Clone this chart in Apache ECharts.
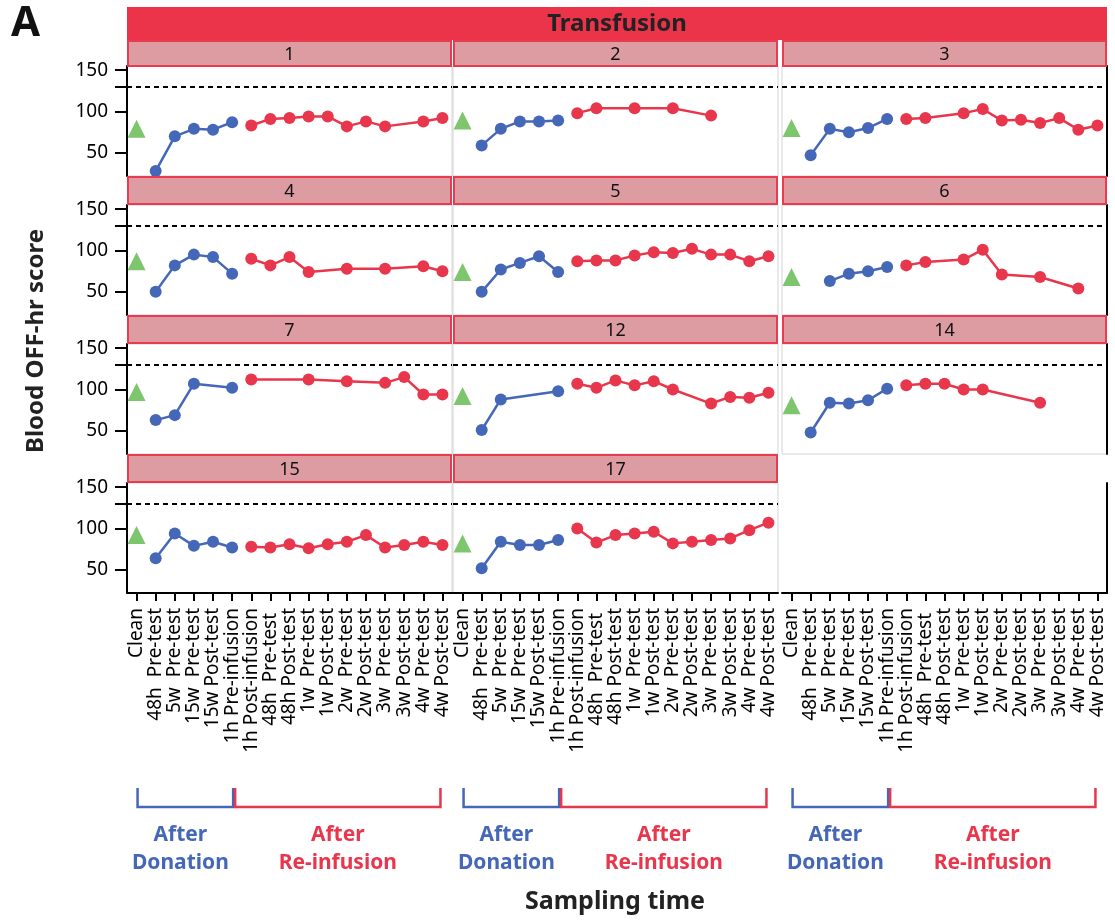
<!DOCTYPE html>
<html>
<head>
<meta charset="utf-8">
<script src="https://cdn.jsdelivr.net/npm/echarts@6/dist/echarts.min.js"></script>
<style>
html,body{margin:0;padding:0;background:#fff;}
#chart{width:1115px;height:920px;}
</style>
</head>
<body>
<div id="chart"></div>
<script>
// ---------- DATA ----------
const categories = ['Clean','48h  Pre-test','5w  Pre-test','15w  Pre-test','15w Post-test','1h Pre-infusion',
  '1h Post-infusion','48h  Pre-test ','48h Post-test','1w  Pre-test','1w Post-test','2w  Pre-test','2w Post-test',
  '3w  Pre-test','3w Post-test','4w  Pre-test','4w Post-test'];
const panelIds = ['1','2','3','4','5','6','7','12','14','15','17'];
const yTickValues = [50, 100, 150];
const thresholdValue = 130;
const headerTitle = 'Transfusion';
const yAxisTitle = 'Blood OFF-hr score';
const xAxisTitle = 'Sampling time';
const donationLabel = 'After\nDonation';
const reinfusionLabel = 'After\nRe-infusion';

// Clean (green triangle) value per panel
const cleanValues = [79, 89, 80, 87, 74, 68, 97, 92, 81, 92, 82];

// After donation: 48h Pre, 5w Pre, 15w Pre, 15w Post, 1h Pre-infusion
const donation1  = [28, 70, 79, 78, 87];
const donation2  = [59, 79, 88, 88, 89];
const donation3  = [47, 79, 75, 80, 91];
const donation4  = [50, 82, 95, 92, 72];
const donation5  = [50, 77, 85, 93, 74];
const donation6  = [null, 63, 72, 75, 80];
const donation7  = [63, 69, 107, null, 102];
const donation12 = [51, 88, null, null, 98];
const donation14 = [48, 84, 83, 87, 101];
const donation15 = [64, 94, 79, 84, 77];
const donation17 = [52, 84, 80, 80, 86];

// After re-infusion: 1h Post, 48h Pre, 48h Post, 1w Pre, 1w Post, 2w Pre, 2w Post, 3w Pre, 3w Post, 4w Pre, 4w Post
const reinfusion1  = [83, 91, 92, 94, 94, 82, 88, 82, null, 88, 92];
const reinfusion2  = [98, 104, null, 104, null, 104, null, 95, null, null, null];
const reinfusion3  = [91, 92, null, 98, 103, 89, 90, 86, 92, 78, 83];
const reinfusion4  = [90, 82, 92, 74, null, 78, null, 78, null, 81, 75];
const reinfusion5  = [87, 88, 88, 94, 98, 97, 102, 95, 95, 87, 93];
const reinfusion6  = [82, 86, null, 89, 101, 71, null, 68, null, 54, null];
const reinfusion7  = [112, null, null, 112, null, 110, null, 108, 115, 94, 94];
const reinfusion12 = [107, 102, 111, 105, 110, 100, null, 83, 91, 90, 96];
const reinfusion14 = [105, 107, 107, 100, 100, null, null, 84, null, null, null];
const reinfusion15 = [78, 77, 81, 76, 81, 84, 92, 77, 80, 84, 80];
const reinfusion17 = [100, 83, 92, 94, 96, 82, 84, 86, 88, 98, 107];

const donationSets = [donation1, donation2, donation3, donation4, donation5, donation6, donation7, donation12, donation14, donation15, donation17];
const reinfusionSets = [reinfusion1, reinfusion2, reinfusion3, reinfusion4, reinfusion5, reinfusion6, reinfusion7, reinfusion12, reinfusion14, reinfusion15, reinfusion17];

// ---------- LAYOUT / STYLE ----------
const FONT = 'Noto Sans';
const colLeft = [127, 453, 782];
const colWidth = 325;
const rowTop = [66, 205, 344, 483];
const rowHeight = 110;
const BLUE = '#4567b7';
const RED = '#e8364c';
const GREEN = '#5cb84a';
const STRIP_FILL = '#dd9ba2';
const STRIP_STROKE = '#ea3a50';
const HEADER_FILL = '#eb3349';

const chart = echarts.init(document.getElementById('chart'), null, {renderer: 'canvas'});

const grids = [], xAxes = [], yAxes = [], series = [], graphics = [];
const nCells = 12;
for (let i = 0; i < nCells; i++) {
  const row = Math.floor(i / 3), col = i % 3;
  const isPanel = i < panelIds.length;
  grids.push({
    left: colLeft[col], top: rowTop[row], width: colWidth, height: rowHeight,
    show: isPanel, borderColor: '#d4d4d4', borderWidth: 1, backgroundColor: 'transparent'
  });
  xAxes.push({
    type: 'category', gridIndex: i, data: categories, boundaryGap: true,
    show: row === 3,
    axisLine: {show: true, lineStyle: {color: '#000', width: 2}},
    axisTick: {show: true, alignWithLabel: true, length: 8, lineStyle: {color: '#000', width: 2}},
    axisLabel: {show: true, rotate: 90, interval: 0, fontSize: 19, margin: 15, color: '#000', fontFamily: FONT}
  });
  const yBase = {type: 'value', gridIndex: i, min: 22, max: 155, splitLine: {show: false}};
  if (col === 0) {
    yAxes.push(Object.assign(yBase, {
      position: 'left', show: true,
      axisLine: {show: true, lineStyle: {color: '#000', width: 2}},
      axisTick: {show: true, length: 12, customValues: [...yTickValues, thresholdValue], lineStyle: {color: '#000', width: 2}},
      axisLabel: {show: true, customValues: yTickValues, fontSize: 19, margin: 19, color: '#000', fontFamily: FONT}
    }));
  } else if (col === 2) {
    yAxes.push(Object.assign(yBase, {
      position: 'right', show: true,
      axisLine: {show: true, lineStyle: {color: '#000', width: 2}},
      axisTick: {show: false}, axisLabel: {show: false}
    }));
  } else {
    yAxes.push(Object.assign(yBase, {show: false}));
  }

  if (isPanel) {
    const don = donationSets[i], rein = reinfusionSets[i];
    const cleanData = categories.map((c, k) => k === 0 ? cleanValues[i] : '-');
    const donData = categories.map((c, k) => (k >= 1 && k <= 5) ? (don[k - 1] == null ? '-' : don[k - 1]) : '-');
    const reinData = categories.map((c, k) => (k >= 6) ? (rein[k - 6] == null ? '-' : rein[k - 6]) : '-');
    series.push({
      type: 'line', xAxisIndex: i, yAxisIndex: i, data: donData, connectNulls: true,
      symbol: 'circle', symbolSize: 12, itemStyle: {color: BLUE}, lineStyle: {color: BLUE, width: 2.5},
      z: 3, animation: false,
      markLine: {silent: true, symbol: 'none', label: {show: false},
        lineStyle: {color: '#000', type: [5, 4], width: 2},
        data: [{yAxis: thresholdValue}], animation: false}
    });
    series.push({
      type: 'line', xAxisIndex: i, yAxisIndex: i, data: reinData, connectNulls: true,
      symbol: 'circle', symbolSize: 12, itemStyle: {color: RED}, lineStyle: {color: RED, width: 2.5},
      z: 3, animation: false
    });
    series.push({
      type: 'scatter', xAxisIndex: i, yAxisIndex: i, data: cleanData,
      symbol: 'triangle', symbolSize: [18, 18], itemStyle: {color: GREEN}, z: 4, animation: false
    });

    // strip
    const sTop = row === 0 ? 41 : rowTop[row] - 28;
    const sH = row === 0 ? 25 : 27;
    graphics.push({
      type: 'rect', shape: {x: colLeft[col] + 1, y: sTop, width: colWidth - 2, height: sH},
      style: {fill: STRIP_FILL, stroke: STRIP_STROKE, lineWidth: 2}, z: 10
    });
    graphics.push({
      type: 'text', x: colLeft[col] + colWidth / 2, y: sTop + sH / 2 + 1,
      style: {text: panelIds[i], font: '18px "' + FONT + '"', fill: '#111', align: 'center', verticalAlign: 'middle'}, z: 11
    });
  }
}

// header
graphics.push({type: 'rect', shape: {x: colLeft[0], y: 7, width: colLeft[2] + colWidth - colLeft[0], height: 33},
  style: {fill: HEADER_FILL}, z: 10});
graphics.push({type: 'text', x: (colLeft[0] + colLeft[2] + colWidth) / 2, y: 24,
  style: {text: headerTitle, font: 'bold 24px "' + FONT + '"', fill: '#222', align: 'center', verticalAlign: 'middle'}, z: 11});
// panel letter
graphics.push({type: 'text', x: 11, y: 24,
  style: {text: 'A', font: 'bold 42px "' + FONT + '"', fill: '#111', align: 'left', verticalAlign: 'middle'}, z: 11});
// axis titles
graphics.push({type: 'text', x: 36, y: 341, rotation: Math.PI / 2,
  style: {text: yAxisTitle, font: 'bold 24px "' + FONT + '"', fill: '#222', align: 'center', verticalAlign: 'middle'}, z: 11});
graphics.push({type: 'text', x: 615, y: 902,
  style: {text: xAxisTitle, font: 'bold 25px "' + FONT + '"', fill: '#222', align: 'center', verticalAlign: 'middle'}, z: 11});

chart.setOption({
  animation: false,
  backgroundColor: '#fff',
  grid: grids, xAxis: xAxes, yAxis: yAxes, series: series, graphic: graphics
});

// brackets under the bottom row, positioned with the library's category scale
const bracketGraphics = [];
[9, 10, 11].forEach(function (gi) {
  const xClean = chart.convertToPixel({xAxisIndex: gi}, categories[0]);
  const xPre = chart.convertToPixel({xAxisIndex: gi}, categories[5]);
  const xEnd = chart.convertToPixel({xAxisIndex: gi}, categories[16]);
  const yTop = 788, yBot = 807;
  bracketGraphics.push({type: 'polyline', shape: {points: [[xClean + 1, yTop], [xClean + 1, yBot], [xPre + 1, yBot], [xPre + 1, yTop]]},
    style: {stroke: BLUE, lineWidth: 2.5, fill: null}, z: 12});
  bracketGraphics.push({type: 'polyline', shape: {points: [[xPre + 3, yTop], [xPre + 3, yBot], [xEnd - 2, yBot], [xEnd - 2, yTop]]},
    style: {stroke: RED, lineWidth: 2.5, fill: null}, z: 12});
  bracketGraphics.push({type: 'text', x: (xClean + xPre) / 2 - 4, y: 849,
    style: {text: donationLabel, font: 'bold 21px "' + FONT + '"', lineHeight: 28, fill: BLUE, align: 'center', verticalAlign: 'middle'}, z: 12});
  bracketGraphics.push({type: 'text', x: (xPre + 3 + xEnd - 2) / 2, y: 849,
    style: {text: reinfusionLabel, font: 'bold 21px "' + FONT + '"', lineHeight: 28, fill: RED, align: 'center', verticalAlign: 'middle'}, z: 12});
});
chart.setOption({graphic: graphics.concat(bracketGraphics)});
</script>
</body>
</html>
